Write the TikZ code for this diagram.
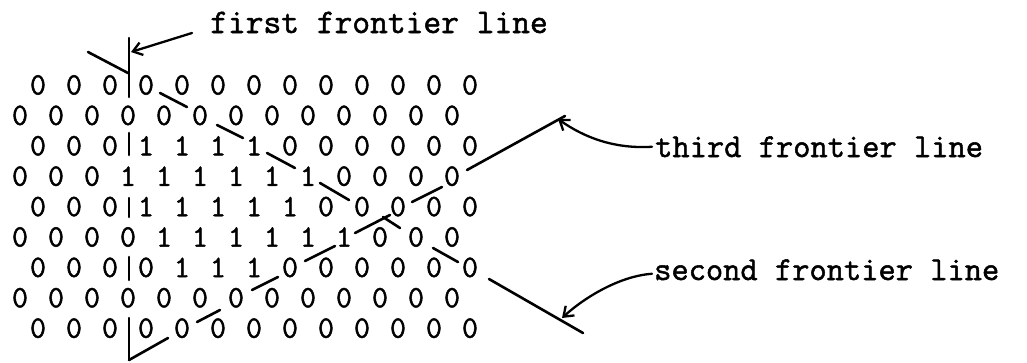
\documentclass[tikz,border=0pt]{standalone}
\usepackage{fontspec}
\newfontfamily\tw{Latin Modern Mono}[FakeBold=1.5]
\usetikzlibrary{arrows.meta}
\begin{document}
\begin{tikzpicture}[x=1pt,y=-1pt,
  cell/.style={inner sep=0pt,anchor=center,font=\tw\fontsize{31pt}{31pt}\selectfont},
  lbl/.style={inner sep=0pt,anchor=base west,font=\tw\fontsize{33.5pt}{33.5pt}\selectfont},
  frontier/.style={line width=2.6pt,line cap=round},
  pointer/.style={line width=2.3pt,line cap=round,-{Straight Barb[length=9pt,width=13pt,line width=2.3pt]}}]
\useasboundingbox (0,0) rectangle (1027,362);
% grid of cells
\foreach \r/\pat in {
  1/{0,0,0,0,0,0,0,0,0,0,0,0,0},
  2/{0,0,0,0,0,0,0,0,0,0,0,0,0},
  3/{0,0,0,1,1,1,1,0,0,0,0,0,0},
  4/{0,0,0,1,1,1,1,1,1,0,0,0,0},
  5/{0,0,0,1,1,1,1,1,0,0,0,0,0},
  6/{0,0,0,0,1,1,1,1,1,1,0,0,0},
  7/{0,0,0,0,1,1,1,0,0,0,0,0,0},
  8/{0,0,0,0,0,0,0,0,0,0,0,0,0},
  9/{0,0,0,0,0,0,0,0,0,0,0,0,0}}{
  \pgfmathsetmacro{\xo}{ifthenelse(isodd(\r),38,20)}
  \foreach \v [count=\c from 0] in \pat {
    \node[cell] (r\r c\c) at ({\xo+36*\c},{85+30.4*(\r-1)}) {\v};
  }
}
% first frontier line (vertical)
\foreach \ya/\yb in {38/97,133/155,198/217,257/280,318/360}
  \draw[frontier] (129,\ya) -- (129,\yb);
% second frontier line
\draw[frontier] (88,52) -- (128,73);
\draw[frontier] (160,93) -- (187,107);
\draw[frontier] (217,125) -- (243,138);
\draw[frontier] (267,153) -- (295,168);
\draw[frontier] (320,183) -- (349,200);
\draw[frontier] (383,217) -- (400,228);
\draw[frontier] (433,248) -- (458,262);
\draw[frontier] (489,279) -- (583,333);
% third frontier line
\draw[frontier] (129,360) -- (168,338);
\draw[frontier] (197,322) -- (220,310);
\draw[frontier] (252,290) -- (278,277);
\draw[frontier] (305,261) -- (335,246);
\draw[frontier] (355,233) -- (390,215);
\draw[frontier] (412,202) -- (442,187);
\draw[frontier] (467,170) -- (565,116);
% labels
\node[lbl,font=\tw\fontsize{34.5pt}{34.5pt}\selectfont] (lab1) at (210,33) {first frontier line};
\node[lbl] (lab3) at (655,157) {third frontier line};
\node[lbl] (lab2) at (654,280) {second frontier line};
% arrow tips on the lines
\coordinate (t1) at (131,52);
\coordinate (t3) at (558,119);
\coordinate (t2) at (562,318);
\draw[pointer] ([xshift=-18pt]lab1.base west) -- (t1);
\draw[pointer] ([xshift=-3pt]lab3.west) .. controls (615,149) and (585,138) .. (t3);
\draw[pointer] ([xshift=-2pt,yshift=-4pt]lab2.west) .. controls (620,276) and (585,297) .. (t2);
\end{tikzpicture}
\end{document}
